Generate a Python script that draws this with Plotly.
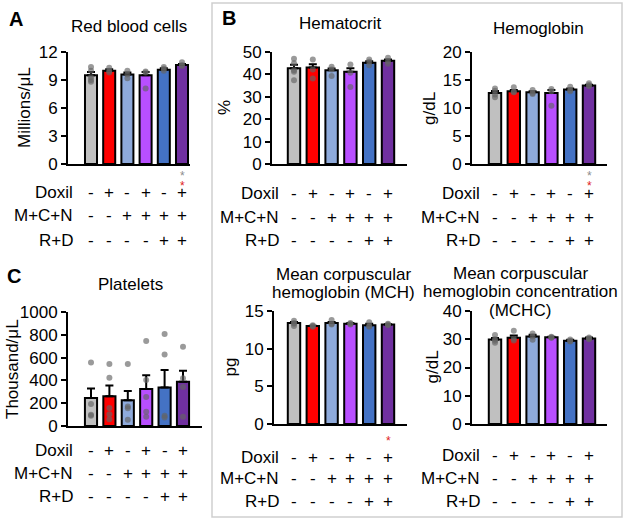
import plotly.graph_objects as go

W, H = 625, 521
FONT = "Liberation Sans, Arial, sans-serif"

groups = ["Ctrl", "Doxil", "MCN", "Doxil+MCN", "MCN+RD", "Doxil+MCN+RD"]
bar_colors = ["#c0c0c0", "#ff0000", "#8eaadb", "#b84fff", "#4472c4", "#7030a0"]
row_names = ["Doxil", "M+C+N", "R+D"]
doxil_row = ["-", "+", "-", "+", "-", "+"]
mcn_row = ["-", "-", "+", "+", "+", "+"]
rd_row = ["-", "-", "-", "-", "+", "+"]

rbc_mean = [9.5, 10.0, 9.6, 9.5, 10.1, 10.6]
rbc_sem = [0.35, 0.15, 0.2, 0.35, 0.15, 0.12]
rbc_points = [[10.4, 10.0, 9.3, 9.0, 8.8], [10.3, 10.0, 9.8], [10.0, 9.6, 9.2],
              [9.9, 9.8, 8.1], [10.4, 10.2, 10.0], [10.9, 10.6, 10.5]]

hct_mean = [42.8, 43.1, 41.8, 41.2, 45.2, 46.1]
hct_sem = [1.5, 1.4, 0.8, 1.6, 0.7, 0.5]
hct_points = [[47.0, 45.0, 41.8, 41.2, 37.4], [46.6, 42.2, 38.2], [43.4, 42.2, 39.3],
              [44.4, 40.7, 34.4], [46.6, 45.6, 44.1], [47.4, 45.9, 44.7]]

hgb_mean = [12.7, 13.0, 12.8, 12.7, 13.3, 14.0]
hgb_sem = [0.35, 0.2, 0.2, 0.5, 0.2, 0.15]
hgb_points = [[13.5, 13.1, 12.4, 11.9], [13.7, 12.8, 12.9], [13.2, 12.7, 12.5],
              [13.4, 13.0, 10.4], [13.8, 13.2, 13.0], [14.4, 14.1, 13.9]]

plt_mean = [245, 260, 225, 325, 337, 388]
plt_sem = [83, 95, 82, 120, 155, 96]
plt_points = [[558, 194, 98, 90], [543, 424, 158, 104, 60], [543, 170, 155, 54],
              [746, 403, 254, 125, 81], [806, 627, 90, 75], [696, 418, 343, 81]]

mch_mean = [13.4, 13.0, 13.4, 13.3, 13.1, 13.2]
mch_sem = [0.15, 0.05, 0.15, 0.1, 0.2, 0.05]
mch_points = [[13.7, 13.3, 13.0, 13.4], [13.1, 12.9, 13.0], [13.8, 13.3, 13.2],
              [13.4, 13.3, 13.2], [13.5, 13.0, 12.9], [13.3, 13.2, 13.1]]

mchc_mean = [29.9, 30.5, 31.0, 30.7, 29.5, 30.3]
mchc_sem = [0.5, 0.8, 0.6, 0.2, 0.3, 0.3]
mchc_points = [[31.5, 30.0, 28.8, 29.5], [33.0, 30.2, 29.6], [32.0, 31.0, 29.8],
               [30.9, 30.6, 30.5], [29.9, 29.4, 29.2], [30.6, 30.3, 30.0]]

# stars under the last bar, top to bottom
rbc_stars = ["grey", "red"]
hgb_stars = ["grey", "red"]
mch_stars = ["red"]

# panel geometry in pixels: axis left/right, first bar centre, bar step,
# y top/bottom, title centre, unit label x, rows y, row label right edge
panels = [
    dict(mean=rbc_mean, sem=rbc_sem, pts=rbc_points, ymax=12, dtick=3,
         x0=68, x1=190, b0=91, step=18.2, yt=52, yb=164,
         title=["Red blood cells"], tx=129, ty=27, unit="Millions/μL", ux=25,
         rows=[192, 216, 240], rx=75, stars=rbc_stars, sy=176),
    dict(mean=hct_mean, sem=hct_sem, pts=hct_points, ymax=50, dtick=10,
         x0=272, x1=407, b0=294, step=18.8, yt=52, yb=164,
         title=["Hematocrit"], tx=340, ty=24, unit="%", ux=225,
         rows=[193, 217, 240], rx=281, stars=[], sy=176),
    dict(mean=hgb_mean, sem=hgb_sem, pts=hgb_points, ymax=20, dtick=5,
         x0=472, x1=607, b0=495, step=18.8, yt=52, yb=164,
         title=["Hemoglobin"], tx=538, ty=28, unit="g/dL", ux=430,
         rows=[193, 217, 240], rx=482, stars=hgb_stars, sy=176),
    dict(mean=plt_mean, sem=plt_sem, pts=plt_points, ymax=1000, dtick=200,
         x0=68, x1=202, b0=91, step=18.4, yt=312, yb=426,
         title=["Platelets"], tx=130, ty=284, unit="Thousand/μL", ux=12,
         rows=[450, 473, 496], rx=75, stars=[], sy=440),
    dict(mean=mch_mean, sem=mch_sem, pts=mch_points, ymax=15, dtick=5,
         x0=274, x1=407, b0=294, step=18.8, yt=311, yb=424,
         title=["Mean corpuscular", "hemoglobin (MCH)"], tx=343, ty=274,
         unit="pg", ux=230, rows=[457, 478, 501], rx=281, stars=mch_stars, sy=441),
    dict(mean=mchc_mean, sem=mchc_sem, pts=mchc_points, ymax=40, dtick=10,
         x0=472, x1=607, b0=495, step=18.8, yt=311, yb=424,
         title=["Mean corpuscular", "hemoglobin concentration", "(MCHC)"],
         tx=520, ty=273, unit="g/dL", ux=432, rows=[455, 478, 501], rx=482,
         stars=[], sy=440),
]


def px(x):
    return x / W


def py(y):
    return 1 - y / H


fig = go.Figure()
annotations = []
layout_axes = {}
star_colors = {"grey": "#8c8c8c", "red": "#e02020"}
text_font = dict(size=17, color="black", family=FONT)

for i, p in enumerate(panels):
    n = "" if i == 0 else str(i + 1)
    xa, ya = "x" + n, "y" + n

    fig.add_trace(go.Bar(
        x=groups, y=p["mean"], width=0.66,
        marker=dict(color=bar_colors, line=dict(color="black", width=2)),
        error_y=dict(type="data", array=p["sem"], arrayminus=[0] * 6,
                     symmetric=False, color="black", thickness=2, width=4),
        xaxis=xa, yaxis=ya, showlegend=False,
    ))
    dx, dy = [], []
    for g, vals in zip(groups, p["pts"]):
        dx += [g] * len(vals)
        dy += vals
    fig.add_trace(go.Scatter(
        x=dx, y=dy, mode="markers",
        marker=dict(size=6, color="rgba(100,100,100,0.65)"),
        xaxis=xa, yaxis=ya, showlegend=False,
    ))

    left = (p["x0"] - p["b0"]) / p["step"]
    right = (p["x1"] - p["b0"]) / p["step"]
    layout_axes["xaxis" + n] = dict(
        type="category", categoryarray=groups, range=[left, right],
        domain=[px(p["x0"]), px(p["x1"])], anchor=ya, automargin=False,
        showline=True, linecolor="black", linewidth=2,
        showticklabels=False, ticks="", showgrid=False, zeroline=False,
    )
    layout_axes["yaxis" + n] = dict(
        range=[0, p["ymax"]], domain=[py(p["yb"]), py(p["yt"])], anchor=xa,
        automargin=False,
        tickvals=list(range(0, p["ymax"] + 1, p["dtick"])),
        showline=True, linecolor="black", linewidth=2,
        ticks="outside", ticklen=5, tickwidth=2, tickcolor="black",
        tickfont=text_font,
        showgrid=False, zeroline=False,
    )

    # title
    for k, line in enumerate(p["title"]):
        annotations.append(dict(
            text=line, x=px(p["tx"]), y=py(p["ty"] + k * 18.5),
            xref="paper", yref="paper", showarrow=False, font=text_font,
            xanchor="center", yanchor="middle"))
    # unit label
    annotations.append(dict(
        text=p["unit"], x=px(p["ux"]), y=py((p["yt"] + p["yb"]) / 2),
        xref="paper", yref="paper", textangle=-90, showarrow=False,
        font=text_font, xanchor="center", yanchor="middle"))
    # treatment rows
    for name, signs, ry in zip(row_names, [doxil_row, mcn_row, rd_row], p["rows"]):
        annotations.append(dict(
            text=name, x=px(p["rx"]), y=py(ry), xref="paper", yref="paper",
            showarrow=False, font=text_font, xanchor="right", yanchor="middle"))
        for g, s in zip(groups, signs):
            annotations.append(dict(
                text=s, x=g, y=py(ry), xref=xa, yref="paper", showarrow=False,
                font=text_font, xanchor="center", yanchor="middle"))
    # significance stars
    for k, c in enumerate(p["stars"]):
        annotations.append(dict(
            text="*", x=groups[-1], y=py(p["sy"] + k * 10), xref=xa, yref="paper",
            showarrow=False, font=dict(size=12, color=star_colors[c], family=FONT),
            xanchor="center", yanchor="middle"))

# panel letters
for letter, lx, ly in [("A", 16, 19), ("B", 229, 18), ("C", 14, 276)]:
    annotations.append(dict(
        text="<b>" + letter + "</b>", x=px(lx), y=py(ly), xref="paper", yref="paper",
        showarrow=False, font=dict(size=20, color="black", family=FONT),
        xanchor="center", yanchor="middle"))

fig.update_layout(
    template="none",
    width=W, height=H, margin=dict(l=0, r=0, t=0, b=0, autoexpand=False),
    paper_bgcolor="white", plot_bgcolor="white",
    font=dict(family=FONT, color="black"),
    annotations=annotations,
    shapes=[dict(type="rect", xref="paper", yref="paper",
                 x0=px(212), x1=px(622), y0=py(517), y1=py(3),
                 line=dict(color="#cfcfcf", width=1.5))],
    **layout_axes,
)

# page body margin would push the figure off by 8px
fig.write_html("out.html", config={"displayModeBar": False},
               post_script="document.body.style.margin = '0';")
